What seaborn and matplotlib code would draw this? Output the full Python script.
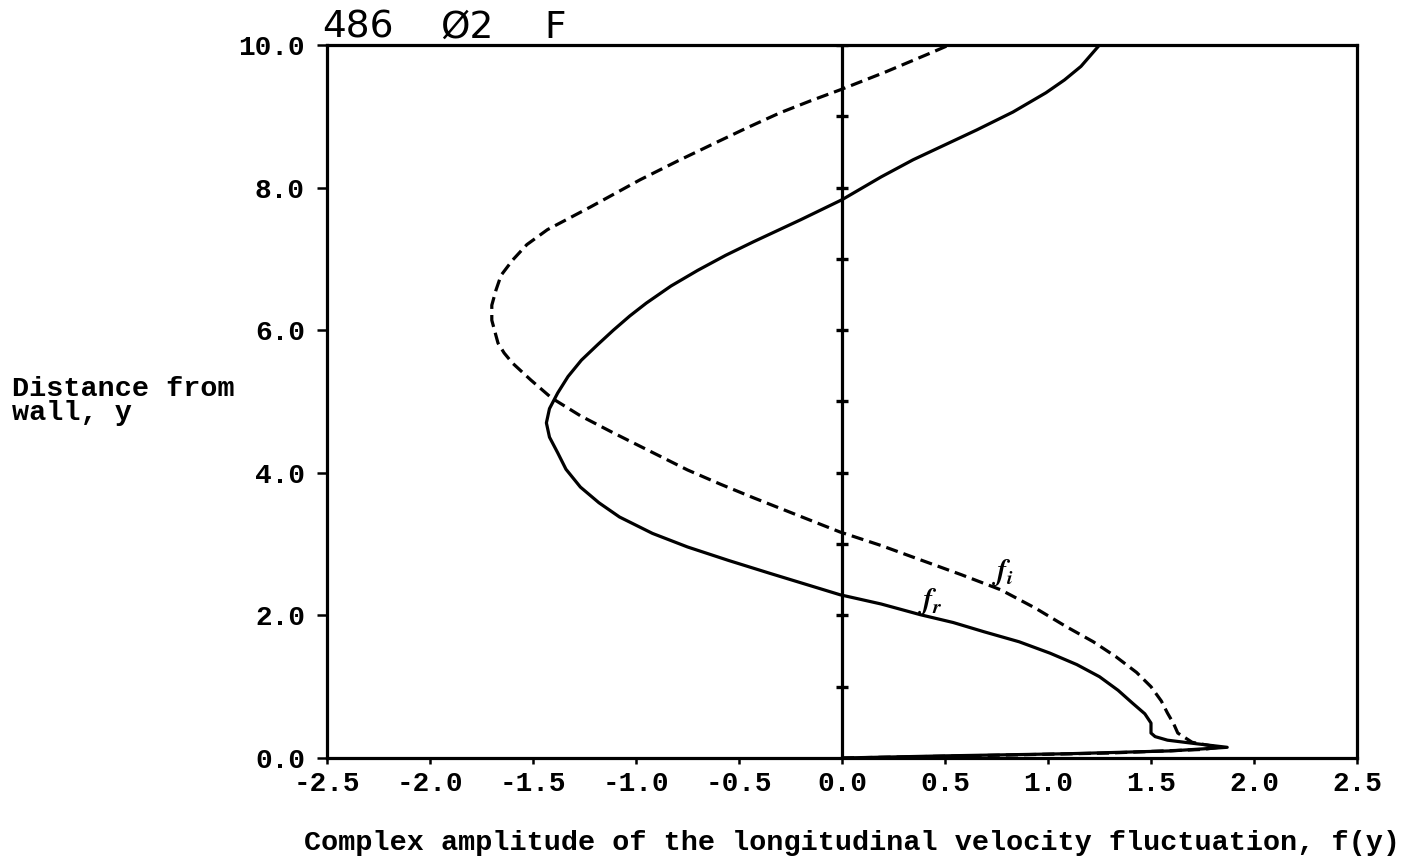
import numpy as np
import pandas as pd
import matplotlib
matplotlib.use("Agg")
import matplotlib.pyplot as plt
import seaborn as sns

# ---- data ----
y_r = [0.0, 0.03, 0.06, 0.10, 0.15, 0.20, 0.25, 0.30, 0.35, 0.49,
       0.62, 0.77, 0.95, 1.14, 1.31, 1.47, 1.63, 1.77, 1.90, 2.01,
       2.16, 2.29, 2.44, 2.59, 2.77, 2.96, 3.15, 3.38, 3.58, 3.80,
       4.05, 4.28, 4.50, 4.70, 4.90, 5.12, 5.35, 5.58, 5.80, 6.00,
       6.20, 6.38, 6.62, 6.84, 7.05, 7.24, 7.55, 7.83, 8.15, 8.39,
       8.60, 8.81, 9.06, 9.33, 9.51, 9.70, 10.0]
f_r = [0.0, 0.5, 1.1, 1.6, 1.87, 1.72, 1.58, 1.52, 1.50, 1.50,
       1.47, 1.41, 1.34, 1.25, 1.14, 1.01, 0.86, 0.69, 0.54, 0.38,
       0.19, -0.01, -0.18, -0.35, -0.55, -0.75, -0.92, -1.08, -1.18, -1.27,
       -1.34, -1.38, -1.42, -1.435, -1.42, -1.38, -1.33, -1.265, -1.185, -1.11,
       -1.03, -0.95, -0.83, -0.70, -0.565, -0.43, -0.20, 0.0, 0.19, 0.345,
       0.50, 0.655, 0.83, 0.99, 1.08, 1.16, 1.25]

y_i = [0.0, 0.03, 0.07, 0.12, 0.15, 0.22, 0.35, 0.48, 0.63, 0.80,
       1.00, 1.20, 1.42, 1.63, 1.84, 2.10, 2.36, 2.57, 2.78, 2.98,
       3.17, 3.41, 3.65, 3.84, 4.04, 4.30, 4.56, 4.80, 5.05, 5.30,
       5.54, 5.68, 5.82, 6.14, 6.35, 6.56, 6.77, 6.98, 7.20, 7.41,
       7.73, 8.11, 8.37, 8.62, 8.84, 9.05, 9.22, 9.37, 9.62, 9.90, 10.0]
f_i = [0.0, 0.6, 1.3, 1.75, 1.83, 1.70, 1.63, 1.61, 1.58, 1.55,
       1.50, 1.43, 1.33, 1.22, 1.09, 0.94, 0.77, 0.58, 0.38, 0.19,
       -0.01, -0.22, -0.43, -0.59, -0.75, -0.93, -1.11, -1.27, -1.41, -1.51,
       -1.60, -1.64, -1.67, -1.70, -1.70, -1.68, -1.655, -1.60, -1.53, -1.43,
       -1.22, -0.98, -0.80, -0.62, -0.46, -0.30, -0.15, -0.01, 0.21, 0.44, 0.52]

x_major = [-2.5, -2.0, -1.5, -1.0, -0.5, 0.0, 0.5, 1.0, 1.5, 2.0, 2.5]
x_minor = [-2.25, -1.75, -1.25, -0.75, -0.25, 0.25, 0.75, 1.25, 1.75, 2.25]
y_major = [0.0, 2.0, 4.0, 6.0, 8.0, 10.0]
y_minor = [1.0, 3.0, 5.0, 7.0, 9.0]
zero_line_marks = [1, 2, 3, 4, 5, 6, 7, 8, 9, 10]

title_parts = ["486", "Ø2", "F"]
xlabel = "Complex amplitude of the longitudinal velocity fluctuation, f(y)"
ylabel = "Distance from\nwall, y"

df_r = pd.DataFrame({"f": f_r, "y": y_r})
df_i = pd.DataFrame({"f": f_i, "y": y_i})

sns.set_theme(style="white")
plt.rcParams["font.family"] = ["Liberation Mono", "DejaVu Sans"]
plt.rcParams["font.weight"] = "bold"
plt.rcParams["mathtext.fontset"] = "stix"

W, H = 1411, 864
fig = plt.figure(figsize=(W / 100, H / 100), dpi=100)
ax = fig.add_axes([327 / W, (H - 758) / H, (1357 - 327) / W, (758 - 45) / H])

lw = 2.3
sns.lineplot(data=df_r, x="f", y="y", sort=False, estimator=None, ax=ax,
             color="black", lw=lw, solid_joinstyle="round", solid_capstyle="round")
sns.lineplot(data=df_i, x="f", y="y", sort=False, estimator=None, ax=ax,
             color="black", lw=lw, linestyle=(0, (3.8, 1.9)), dash_joinstyle="round")

# vertical zero line with its tick marks
ax.axvline(0, color="black", lw=lw, zorder=1)
ax.plot(np.zeros(len(zero_line_marks)), zero_line_marks, ls="none", marker="_",
        color="black", ms=9, mew=2.4, zorder=2)

ax.set_xlim(-2.5, 2.5)
ax.set_ylim(0, 10)
ax.set_xticks(x_major)
ax.set_xticks(x_minor, minor=True)
ax.set_yticks(y_major)
ax.set_yticks(y_minor, minor=True)
ax.set_xticklabels([f"{v:.1f}" for v in x_major])
ax.set_yticklabels([f"{v:.1f}" for v in y_major])

for s in ax.spines.values():
    s.set_visible(True)
    s.set_color("black")
    s.set_linewidth(2.3)

ax.tick_params(axis="x", which="both", direction="out", length=4.5, width=1.8,
               color="black", pad=5, labelsize=20, labelcolor="black")
ax.tick_params(axis="y", which="both", direction="out", length=7, width=1.8,
               color="black", pad=9, labelsize=20, labelcolor="black")
ax.tick_params(bottom=True, left=True)
for lab in ax.get_xticklabels() + ax.get_yticklabels():
    lab.set_fontweight("bold")

ax.set_xlabel(xlabel, fontsize=20.5, fontweight="bold", color="black", va="center")
ax.xaxis.set_label_coords(0.51, -0.119)
ax.set_ylabel(ylabel, fontsize=20.5, fontweight="bold", color="black", rotation=0,
              ha="left", va="center", linespacing=0.9)
ax.yaxis.set_label_coords(-0.306, 0.50)

# curve labels
ax.text(0.43, 2.2, r"$f_r$", fontsize=21, ha="center", va="center", color="black",
        fontweight="normal")
ax.text(0.78, 2.6, r"$f_i$", fontsize=21, ha="center", va="center", color="black",
        fontweight="normal")

# header text
for part, xpx in zip(title_parts, [322, 440, 544]):
    fig.text(xpx / W, 1 - 38 / H, part, fontsize=27, family="DejaVu Sans",
             fontweight="normal", ha="left", va="baseline", color="black")

fig.savefig("out.png", dpi=100, facecolor="white")
